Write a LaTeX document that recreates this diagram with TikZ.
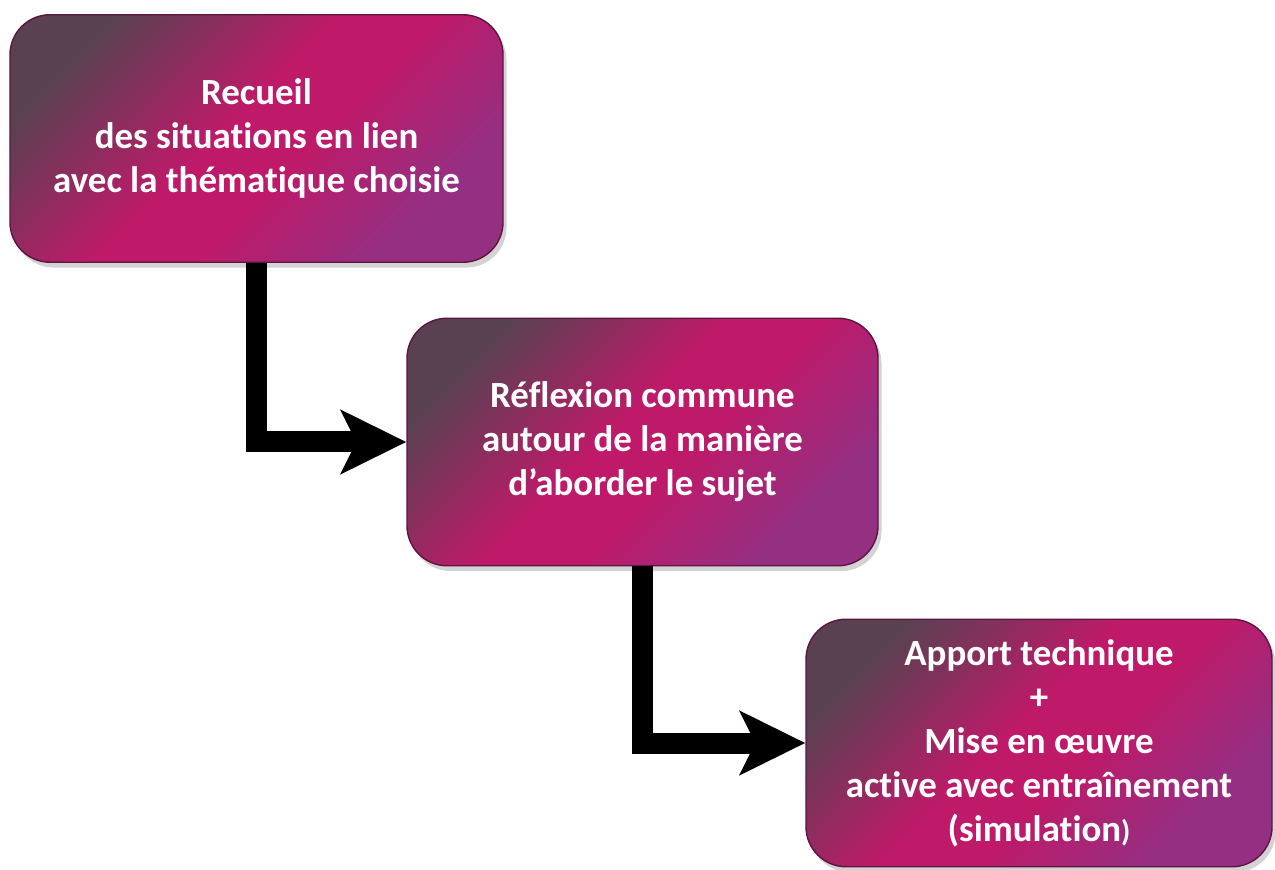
\documentclass[tikz,border=0pt]{standalone}
\usepackage{fontspec}
\setmainfont{Carlito}[Ligatures=NoCommon]
\usepackage{tikz}
\usetikzlibrary{arrows.meta,shadows}
\definecolor{boxgrey}{HTML}{5A4152}
\definecolor{boxmagenta}{HTML}{BE1A69}
\definecolor{boxpurple}{HTML}{952F82}
\definecolor{boxedge}{HTML}{5E1440}
\pgfdeclareverticalshading{box sheen}{100bp}{color(0bp)=(boxpurple); color(27bp)=(boxpurple);
  color(44bp)=(boxmagenta); color(54bp)=(boxmagenta); color(75bp)=(boxgrey); color(100bp)=(boxgrey)}
\begin{document}
\begin{tikzpicture}
    [step box/.style={rounded corners=0.8cm, minimum width=#1, minimum height=4.95cm,
      shading=box sheen, shading angle=45,
      draw=boxedge, line width=0.8pt, text=white, align=center,
      font=\fontsize{21}{25}\selectfont\bfseries,
      drop shadow={opacity=0.35, shadow xshift=2pt, shadow yshift=-3pt}},
     flow arrow/.style={line width=0.42cm,
      -{Stealth[length=1.3cm, width=1.26cm, inset=0.3cm]}}]
    \useasboundingbox (0, 0) rectangle (25.5, 17.38);
    \node[step box=9.86cm] (recueil) at (5.13, 14.61)
      {Recueil\\des situations en lien\\avec la thématique choisie};
    \node[step box=9.42cm] (reflexion) at (12.85, 8.54)
      {Réflexion commune\\autour de la manière\\d’aborder le sujet};
    \node[step box=9.32cm] (apport) at (20.78, 2.52)
      {Apport technique\\+\\Mise en œuvre\\active avec entraînement\\(simulation{\fontsize{17}{25}\selectfont)}};
    \draw[flow arrow] (recueil.south) |- (reflexion.west);
    \draw[flow arrow] (reflexion.south) |- (apport.west);
  \end{tikzpicture}
\end{document}
